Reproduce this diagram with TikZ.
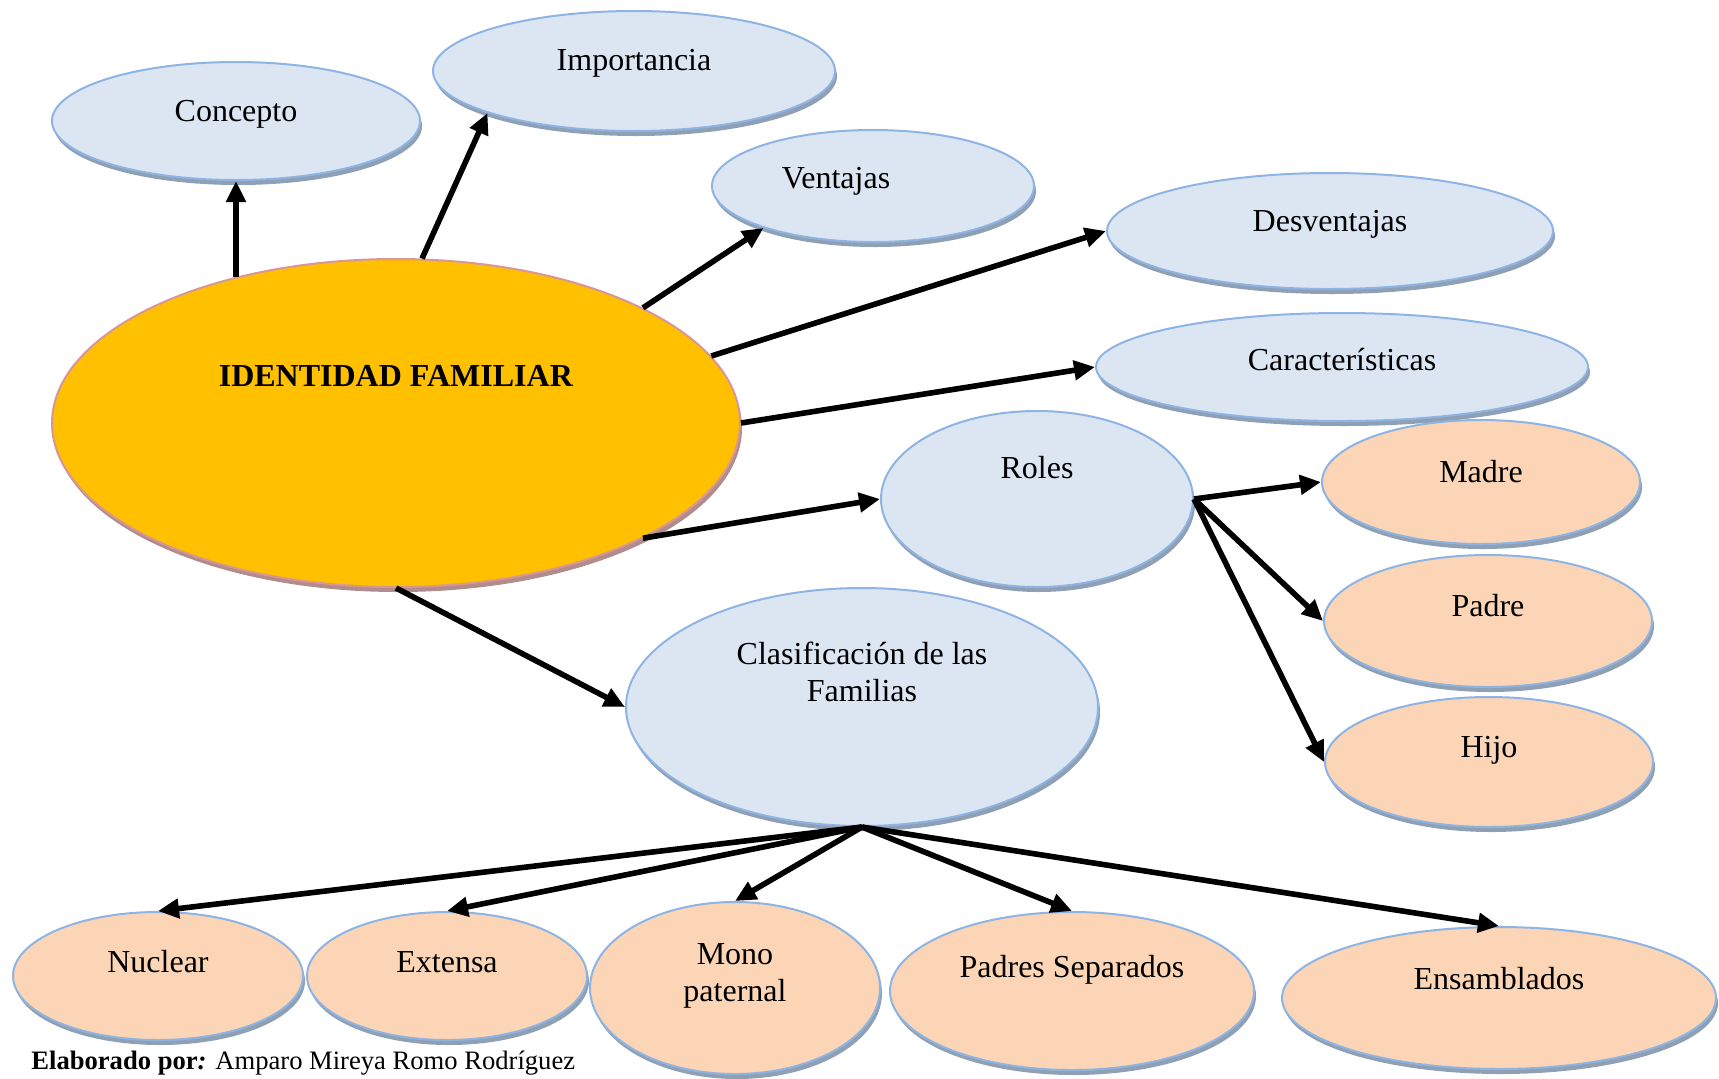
\documentclass[tikz,border=0pt]{standalone}
\usepackage{fontspec}
\setmainfont{Liberation Serif}
\usetikzlibrary{arrows.meta,shapes.geometric,shadows}
\definecolor{azul}{HTML}{DCE6F2}
\definecolor{bordeazul}{HTML}{8EB4E3}
\definecolor{sombra}{HTML}{8FA0B5}
\definecolor{durazno}{HTML}{FBD5B5}
\definecolor{oro}{HTML}{FFC000}
\definecolor{bordeoro}{HTML}{D99694}
\definecolor{sombraoro}{HTML}{B08C8C}

\tikzset{
  burbuja/.style={ellipse, draw=bordeazul, line width=1pt, fill=azul, inner sep=0pt,
    drop shadow={shadow xshift=1pt, shadow yshift=-2.5pt, fill=sombra, opacity=1}},
  hoja/.style={burbuja, fill=durazno},
  flecha/.style={-{Triangle[length=10.5pt,width=9.5pt]}, line width=2.8pt},
}

\begin{document}
\begin{tikzpicture}[x=0.5pt, y=-0.5pt, every label/.style={font=\fontsize{16}{18.5}\selectfont, align=center, inner sep=0pt}]
  \useasboundingbox (0,0) rectangle (1719,1078);

  % centro
  \node[ellipse, draw=bordeoro, line width=1pt, fill=oro, inner sep=0pt,
    drop shadow={shadow xshift=1pt, shadow yshift=-2.5pt, fill=sombraoro, opacity=1},
    minimum width=344pt, minimum height=164pt,
    label={[yshift=23.5pt]center:\textbf{IDENTIDAD FAMILIAR}}] (id) at (396,423) {};

  % ramas
  \node[burbuja, minimum width=184pt, minimum height=59pt, label={[yshift=3.5pt]center:Concepto}] (concepto) at (236,121) {};
  \node[burbuja, minimum width=201pt, minimum height=60pt, label={[yshift=4pt]center:Importancia}] (importancia) at (634,71) {};
  \node[burbuja, minimum width=161pt, minimum height=56pt, label={[xshift=-18.5pt, yshift=2.5pt]center:Ventajas}] (ventajas) at (873,186) {};
  \node[burbuja, minimum width=223pt, minimum height=58pt, label={[yshift=3.5pt]center:Desventajas}] (desventajas) at (1330,231) {};
  \node[burbuja, minimum width=246pt, minimum height=54pt, label={[yshift=3.5pt]center:Características}] (caracteristicas) at (1342,367) {};
  \node[burbuja, minimum width=156pt, minimum height=88pt, label={[yshift=15.5pt]center:Roles}] (roles) at (1037,499) {};
  \node[burbuja, minimum width=236pt, minimum height=119pt, label={[yshift=17.5pt]center:Clasificación de las\\Familias}] (clasif) at (862,707) {};

  % roles
  \node[hoja, minimum width=159pt, minimum height=62pt, label={[yshift=5pt]center:Madre}] (madre) at (1481,482) {};
  \node[hoja, minimum width=164pt, minimum height=66pt, label={[yshift=7.5pt]center:Padre}] (padre) at (1488,621) {};
  \node[hoja, minimum width=164pt, minimum height=65pt, label={[yshift=6pt]center:Hijo}] (hijo) at (1489,762) {};

  % tipos de familia
  \node[hoja, minimum width=145pt, minimum height=64pt, label={[yshift=7pt]center:Nuclear}] (nuclear) at (158,976) {};
  \node[hoja, minimum width=140pt, minimum height=64pt, label={[yshift=7pt]center:Extensa}] (extensa) at (447,976) {};
  \node[hoja, minimum width=145pt, minimum height=86pt, label={[yshift=6pt]center:Mono\\paternal}] (mono) at (735,988) {};
  \node[hoja, minimum width=182pt, minimum height=79pt, label={[yshift=10.5pt]center:Padres Separados}] (padres) at (1072,991) {};
  \node[hoja, minimum width=217pt, minimum height=71pt, label={[yshift=9.5pt]center:Ensamblados}] (ensamblados) at (1499,998) {};

  \node[anchor=base west, inner sep=0pt, font=\fontsize{13.3}{15}\selectfont] (autor) at (31,1069)
    {\textbf{Elaborado por\textit{:}} Amparo Mireya Romo Rodríguez};

  % flechas
  \draw[flecha] (id.138 -| concepto.south) -- (concepto.south);
  \draw[flecha] (id.81) -- (importancia.-164);
  \draw[flecha] (id.25) -- (ventajas.-159);
  \draw[flecha] (id.12) -- (desventajas.west);
  \draw[flecha] (id.east) -- (caracteristicas.west);
  \draw[flecha] (id.-25) -- (roles.west);
  \draw[flecha] (id.south) -- (clasif.west);
  \foreach \h in {madre,padre,hijo}
    \draw[flecha] (roles.east) -- (\h.west);
  \foreach \h in {nuclear,extensa,mono,padres,ensamblados}
    \draw[flecha] (clasif.south) -- (\h.north);
\end{tikzpicture}
\end{document}
